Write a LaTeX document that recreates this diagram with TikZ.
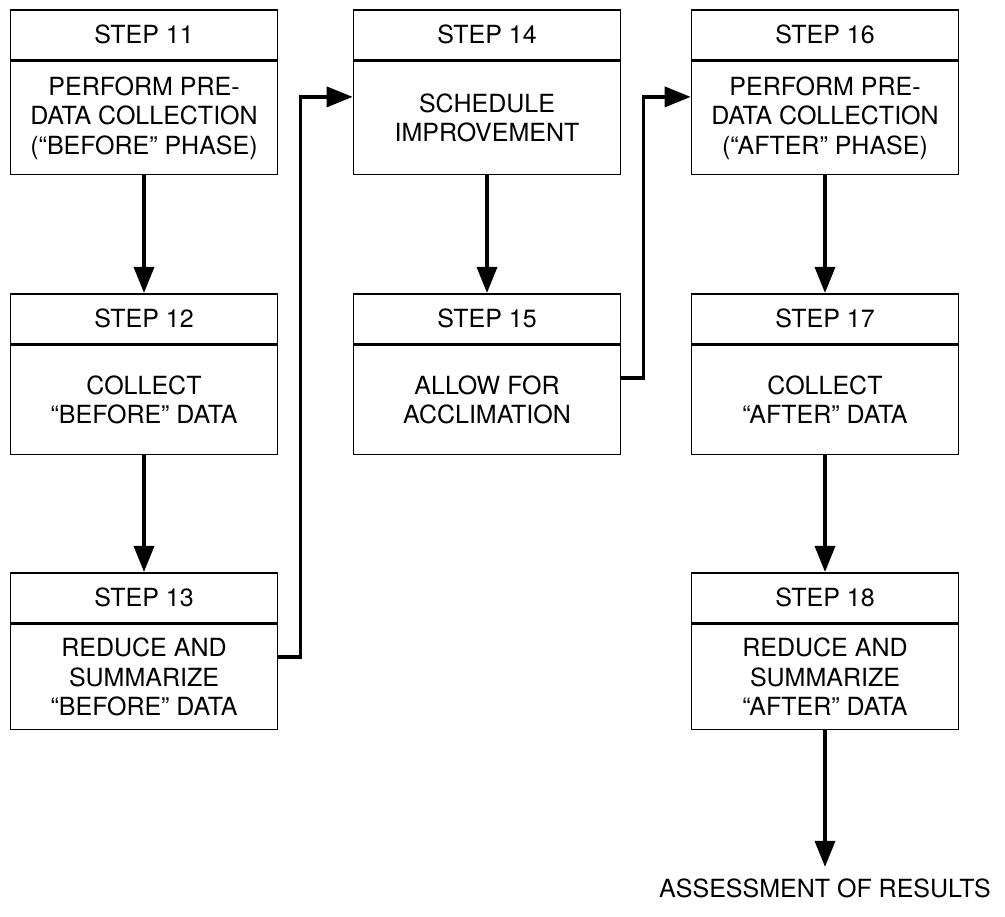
\documentclass[tikz,border=0pt]{standalone}
\usepackage{fontspec}
\setmainfont{TeX Gyre Heros}
\usepackage{tikz}
\usetikzlibrary{arrows.meta}
\usetikzlibrary{positioning}
\tikzset{
	head node/.style={rectangle,draw,line width=1.6pt,minimum width=267pt,
		minimum height=50pt,anchor=north},
	body node/.style={rectangle,draw,line width=1.6pt,minimum width=267pt,
		anchor=north,align=center},
	flow/.style={->,line width=3.5pt}
}

\begin{document}
\begin{tikzpicture}[x=1pt,y=1pt,>={Triangle[length=26pt,width=20pt]},
	font=\fontsize{25}{29.5}\selectfont]
	\useasboundingbox (0,0) rectangle (1005,917);
	% before phase
	\node [head node] (s11h) at (144,908) {STEP 11};
	\node [body node,minimum height=113pt] (s11) at (s11h.south) {PERFORM PRE-\\DATA COLLECTION\\(“BEFORE” PHASE)};
	\node [head node] (s12h) at (144,624) {STEP 12};
	\node [body node,minimum height=109pt] (s12) at (s12h.south) {COLLECT\\“BEFORE” DATA};
	\node [head node] (s13h) at (144,345) {STEP 13};
	\node [body node,minimum height=105pt] (s13) at (s13h.south) {REDUCE AND\\SUMMARIZE\\“BEFORE” DATA};
	% improvement
	\node [head node] (s14h) at (487,908) {STEP 14};
	\node [body node,minimum height=113pt] (s14) at (s14h.south) {SCHEDULE\\IMPROVEMENT};
	\node [head node] (s15h) at (487,624) {STEP 15};
	\node [body node,minimum height=109pt] (s15) at (s15h.south) {ALLOW FOR\\ACCLIMATION};
	% after phase
	\node [head node] (s16h) at (825,908) {STEP 16};
	\node [body node,minimum height=113pt] (s16) at (s16h.south) {PERFORM PRE-\\DATA COLLECTION\\(“AFTER” PHASE)};
	\node [head node] (s17h) at (825,624) {STEP 17};
	\node [body node,minimum height=109pt] (s17) at (s17h.south) {COLLECT\\“AFTER” DATA};
	\node [head node] (s18h) at (825,345) {STEP 18};
	\node [body node,minimum height=105pt] (s18) at (s18h.south) {REDUCE AND\\SUMMARIZE\\“AFTER” DATA};
	\node (assess) at (825,29) {ASSESSMENT OF RESULTS};

	\draw [flow] (s11) -- (s12h);
	\draw [flow] (s12) -- (s13h);
	\draw [flow] ([yshift=20pt]s13.east) -- ++(22,0) |- ([yshift=21pt]s14.west);
	\draw [flow] (s14) -- (s15h);
	\draw [flow] ([yshift=22pt]s15.east) -- ++(22,0) |- ([yshift=21pt]s16.west);
	\draw [flow] (s16) -- (s17h);
	\draw [flow] (s17) -- (s18h);
	\draw [flow,shorten >=8pt] (s18) -- (assess);
\end{tikzpicture}
\end{document}
